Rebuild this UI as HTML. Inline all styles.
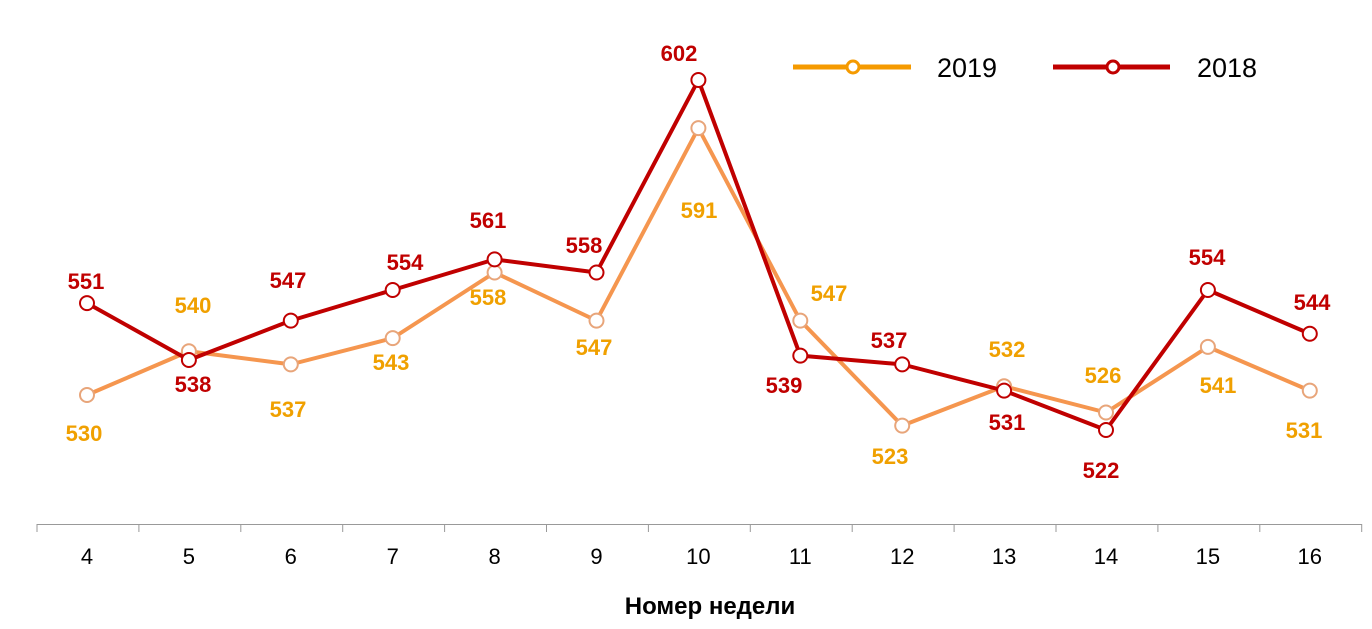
<!DOCTYPE html>
<html><head><meta charset="utf-8"><style>html,body{margin:0;padding:0;background:#fff}svg{display:block}text{font-family:"Liberation Sans",Arial,sans-serif}</style></head><body>
<svg width="1372" height="629" viewBox="0 0 1372 629" xmlns="http://www.w3.org/2000/svg">
<g stroke="#999" stroke-width="1">
<line x1="37" y1="524.5" x2="1362" y2="524.5"/>
<g id="t"></g>
</g>
<script>
(function(){
var ns="http://www.w3.org/2000/svg",svg=document.currentScript.parentNode;
function el(n,a,p){var e=document.createElementNS(ns,n);for(var k in a)e.setAttribute(k,a[k]);(p||svg).appendChild(e);return e;}
var t=document.getElementById('t');
for(var k=0;k<=13;k++){var x=37+k*101.9;el('line',{x1:x,y1:524,x2:x,y2:532},t);}
function X(i){return 87+i*101.9;}function Y(v){return 80+(602-v)*4.375;}
var a=[530,540,537,543,558,547,591,547,523,532,526,541,531];
var b=[551,538,547,554,561,558,602,539,537,531,522,554,544];
function pts(d){return d.map(function(v,i){return X(i)+','+Y(v)}).join(' ');}
el('polyline',{points:pts(a),fill:'none',stroke:'#F5964F','stroke-width':4,'stroke-linejoin':'round'});
a.forEach(function(v,i){el('circle',{cx:X(i),cy:Y(v),r:7,fill:'#fff',stroke:'#E8A57A','stroke-width':2});});
el('polyline',{points:pts(b),fill:'none',stroke:'#C00000','stroke-width':4,'stroke-linejoin':'round'});
b.forEach(function(v,i){el('circle',{cx:X(i),cy:Y(v),r:7,fill:'#fff',stroke:'#C00000','stroke-width':2});});
var la=[[84,441],[193,313],[288,417],[391,370],[488,305],[594,355],[699,218],[829,301],[890,464],[1007,357],[1103,383],[1218,393],[1304,438]];
var lb=[[86,289],[193,392],[288,288],[405,270],[488,228],[584,253],[679,61],[784,393],[889,348],[1007,430],[1101,478],[1207,265],[1312,310]];
la.forEach(function(p,i){el('text',{x:p[0],y:p[1],'text-anchor':'middle','font-size':22,'font-weight':'bold',fill:'#F0A000'}).textContent=a[i];});
lb.forEach(function(p,i){el('text',{x:p[0],y:p[1],'text-anchor':'middle','font-size':22,'font-weight':'bold',fill:'#C00000'}).textContent=b[i];});
for(var i=0;i<13;i++){el('text',{x:X(i),y:564,'text-anchor':'middle','font-size':22,fill:'#000'}).textContent=4+i;}
})();
</script>
<text x="710" y="614" text-anchor="middle" font-size="24" font-weight="bold" fill="#000">Номер недели</text>
<line x1="793" y1="67" x2="911" y2="67" stroke="#F59A00" stroke-width="5"/>
<circle cx="853" cy="67" r="6" fill="#fff" stroke="#F59A00" stroke-width="3"/>
<text x="937" y="77" font-size="27" fill="#000">2019</text>
<line x1="1053" y1="67" x2="1170" y2="67" stroke="#C00000" stroke-width="5"/>
<circle cx="1113" cy="67" r="6" fill="#fff" stroke="#C00000" stroke-width="3"/>
<text x="1197" y="77" font-size="27" fill="#000">2018</text>
</svg>
</body></html>
